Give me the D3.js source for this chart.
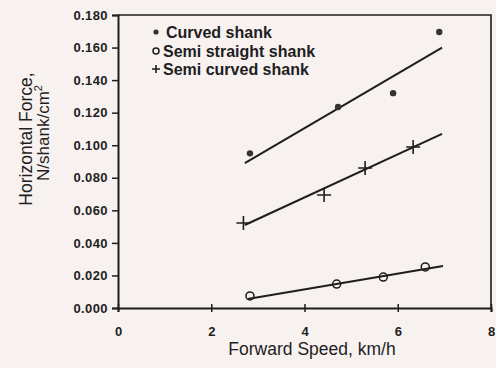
<!DOCTYPE html>
<html lang="en">
<head>
<meta charset="UTF-8">
<title>Horizontal Force vs Forward Speed</title>
<script src="https://cdn.jsdelivr.net/npm/d3@7"></script>
<style>
    body { margin: 0; background: #f7f1f0; }
    svg text { font-family: "Liberation Sans", Arial, sans-serif; fill: #1e1e1e; }
</style>
</head>
<body>
<div id="chart"></div>
<script>
    // values
    const xTicks = [0, 2, 4, 6, 8];
    const yTicks = [0, 0.02, 0.04, 0.06, 0.08, 0.10, 0.12, 0.14, 0.16, 0.18];

    const curvedX = [2.83, 4.72, 5.9, 6.89];
    const curvedY = [0.095, 0.1235, 0.132, 0.1696];
    const curvedFit = [[2.72, 0.089], [6.95, 0.160]];

    const semiCurvedX = [2.69, 4.42, 5.3, 6.33];
    const semiCurvedY = [0.0522, 0.0694, 0.086, 0.0989];
    const semiCurvedFit = [[2.72, 0.051], [6.95, 0.107]];

    const semiStraightX = [2.83, 4.69, 5.69, 6.59];
    const semiStraightY = [0.0074, 0.0147, 0.019, 0.0252];
    const semiStraightFit = [[2.78, 0.0055], [6.97, 0.0258]];

    const legendLabels = ["Curved shank", "Semi straight shank", "Semi curved shank"];

    const width = 496, height = 368;
    const margin = {top: 15, right: 5, bottom: 60, left: 118};

    const svg = d3.select("#chart").append("svg")
        .attr("width", width)
        .attr("height", height);

    const x = d3.scaleLinear().domain([0, 8]).range([margin.left, width - margin.right]);
    const y = d3.scaleLinear().domain([0, 0.18]).range([height - margin.bottom, margin.top]);

    const ink = "#1e1e1e";

    // frame top + right
    svg.append("path")
        .attr("d", `M${x(0)},${y(0.18)}H${x(8)}V${y(0)}`)
        .attr("fill", "none")
        .attr("stroke", ink)
        .attr("stroke-width", 1.6);

    // y axis
    const yAxis = svg.append("g")
        .attr("transform", `translate(${x(0)},0)`)
        .call(d3.axisLeft(y).tickValues(yTicks).tickFormat(d3.format(".3f")).tickSize(6).tickPadding(4));
    yAxis.select(".domain").attr("stroke", ink).attr("stroke-width", 2);
    yAxis.selectAll(".tick line").attr("stroke", ink).attr("stroke-width", 1.5);
    yAxis.selectAll("text")
        .attr("font-size", 13)
        .attr("font-weight", "bold")
        .attr("letter-spacing", 0.4)
        .attr("fill", ink);

    // x axis, ticks cross the line
    const xAxis = svg.append("g")
        .attr("transform", `translate(0,${y(0)})`)
        .call(d3.axisBottom(x).tickValues(xTicks).tickSize(4).tickPadding(15));
    xAxis.select(".domain").attr("stroke", ink).attr("stroke-width", 2);
    xAxis.selectAll(".tick line").attr("y1", -4).attr("stroke", ink).attr("stroke-width", 1.5);
    xAxis.selectAll("text")
        .attr("font-size", 13)
        .attr("font-weight", "bold")
        .attr("fill", ink);

    // axis titles
    svg.append("text")
        .attr("x", 312)
        .attr("y", 355)
        .attr("text-anchor", "middle")
        .attr("font-size", 17.5)
        .text("Forward Speed, km/h");

    const yTitle = svg.append("g").attr("transform", "translate(0,139) rotate(-90)");
    yTitle.append("text")
        .attr("x", 0).attr("y", 32)
        .attr("text-anchor", "middle")
        .attr("font-size", 17.5)
        .text("Horizontal Force,");
    const t2 = yTitle.append("text")
        .attr("x", 6).attr("y", 49)
        .attr("text-anchor", "middle")
        .attr("font-size", 17);
    t2.append("tspan").text("N/shank/cm");
    t2.append("tspan").attr("dy", -7).attr("font-size", 11).text("2");

    // fit lines
    const line = d3.line().x(d => x(d[0])).y(d => y(d[1]));
    [curvedFit, semiCurvedFit, semiStraightFit].forEach(f => {
        svg.append("path")
            .attr("d", line(f))
            .attr("fill", "none")
            .attr("stroke", ink)
            .attr("stroke-width", 2);
    });

    // markers
    function dot(g, cx, cy, r) {
        g.append("circle").attr("cx", cx).attr("cy", cy).attr("r", r).attr("fill", "#333");
    }
    function ring(g, cx, cy, r) {
        g.append("circle").attr("cx", cx).attr("cy", cy).attr("r", r)
            .attr("fill", "none").attr("stroke", ink).attr("stroke-width", 1.5);
    }
    function plus(g, cx, cy, s) {
        g.append("path").attr("d", `M${cx - s},${cy}H${cx + s}M${cx},${cy - s}V${cy + s}`)
            .attr("stroke", ink).attr("stroke-width", 1.6);
    }

    const marks = svg.append("g");
    curvedX.forEach((v, i) => dot(marks, x(v), y(curvedY[i]), 3.2));
    semiStraightX.forEach((v, i) => ring(marks, x(v), y(semiStraightY[i]), 4));
    semiCurvedX.forEach((v, i) => plus(marks, x(v), y(semiCurvedY[i]), 7));

    // legend
    const legend = svg.append("g");
    const ly = [32, 51, 69];
    dot(legend, 156, ly[0], 2.6);
    ring(legend, 156, ly[1], 3);
    plus(legend, 156, ly[2], 4);
    legendLabels.forEach((lab, i) => {
        legend.append("text")
            .attr("x", i === 0 ? 166 : 163)
            .attr("y", ly[i] + 5.5)
            .attr("font-size", 16)
            .attr("font-weight", "bold")
            .text(lab);
    });
</script>
</body>
</html>
